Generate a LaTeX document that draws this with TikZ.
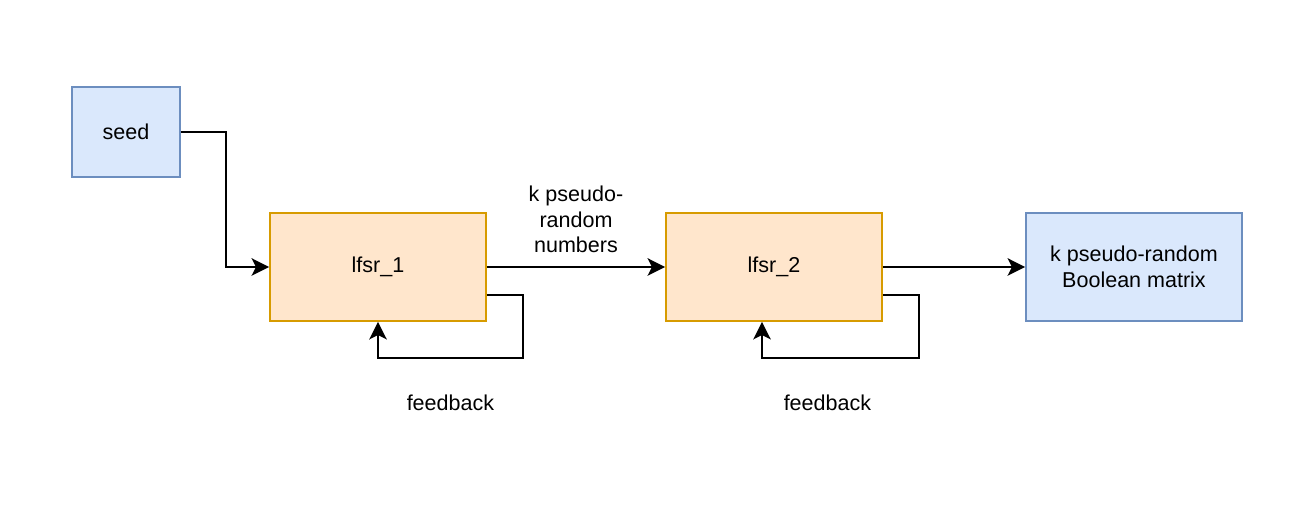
\documentclass[tikz,border=0pt]{standalone}
\usepackage{fontspec}
\setmainfont{Liberation Sans}
\usetikzlibrary{arrows.meta}
\definecolor{inblue}{HTML}{DAE8FC}
\definecolor{inbluedraw}{HTML}{6C8EBF}
\definecolor{lfsrfill}{HTML}{FFE6CC}
\definecolor{lfsrdraw}{HTML}{D79B00}
\begin{document}
\begin{tikzpicture}[
        every node/.style = {font = \fontsize{12.25}{14.7}\selectfont, align = center},
        inputbox/.style = {draw = inbluedraw, fill = inblue, line width = 1pt},
        lfsrbox/.style = {draw = lfsrdraw, fill = lfsrfill, line width = 1pt,
            minimum width = 4.32cm, minimum height = 2.16cm},
        link/.style = {line width = 1.1pt, -{Stealth[length = 10pt, width = 10pt, inset = 2.5pt]}}
    ]
    \useasboundingbox (0, 0) rectangle (25.94, -10.52);
    % boxes
    \node[inputbox, minimum width = 2.16cm, minimum height = 1.8cm] (seed) at (2.52, -2.64) {seed};
    \node[lfsrbox] (lfsr1) at (7.56, -5.34) {lfsr\_1};
    \node[lfsrbox] (lfsr2) at (15.48, -5.34) {lfsr\_2};
    \node[inputbox, minimum width = 4.32cm, minimum height = 2.16cm] (matrix) at (22.68, -5.34)
        {k pseudo-random\\Boolean matrix};
    % feedback corners
    \coordinate (fbone) at ([xshift = 0.72cm, yshift = -0.72cm]lfsr1.south east);
    \coordinate (fbtwo) at ([xshift = 0.72cm, yshift = -0.72cm]lfsr2.south east);
    % connectors
    \draw[link] (seed.east) -- ++(0.9, 0) |- (lfsr1.west);
    \draw[link] (lfsr1.east) -- (lfsr2.west)
        node[midway, above = 4pt] {k pseudo-\\random\\numbers};
    \draw[link] (lfsr2.east) -- (matrix.west);
    \draw[link] ([yshift = 0.54cm]lfsr1.south east) -| (fbone) -| (lfsr1.south)
        node[pos = 0.25, below = 0.6cm] {feedback};
    \draw[link] ([yshift = 0.54cm]lfsr2.south east) -| (fbtwo) -| ([xshift = -0.24cm]lfsr2.south)
        node[pos = 0.25, below = 0.6cm, xshift = -0.26cm] {feedback};
\end{tikzpicture}
\end{document}
